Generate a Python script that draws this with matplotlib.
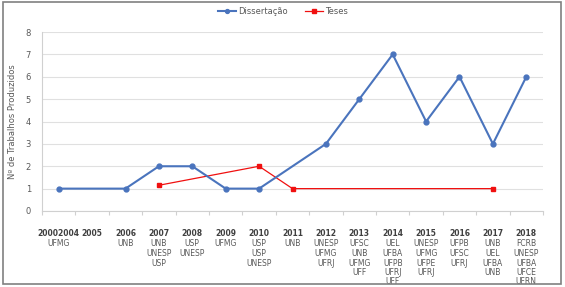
import numpy as np
import matplotlib
matplotlib.use("Agg")
import matplotlib.pyplot as plt
from matplotlib.patches import Rectangle

# Data
categories = ["20002004", "2005", "2006", "2007", "2008", "2009", "2010", "2011",
              "2012", "2013", "2014", "2015", "2016", "2017", "2018"]
institutions = [
    ["UFMG"],
    [],
    ["UNB"],
    ["UNB", "UNESP", "USP"],
    ["USP", "UNESP"],
    ["UFMG"],
    ["USP", "USP", "UNESP"],
    ["UNB"],
    ["UNESP", "UFMG", "UFRJ"],
    ["UFSC", "UNB", "UFMG", "UFF"],
    ["UEL", "UFBA", "UFPB", "UFRJ", "UFF"],
    ["UNESP", "UFMG", "UFPE", "UFRJ"],
    ["UFPB", "UFSC", "UFRJ"],
    ["UNB", "UEL", "UFBA", "UNB"],
    ["FCRB", "UNESP", "UFBA", "UFCE", "UFRN"],
]
nan = np.nan
dissertacao = [1, nan, 1, 2, 2, 1, 1, nan, 3, 5, 7, 4, 6, 3, 6]
teses = [nan, nan, nan, 1.15, nan, nan, 2, 1, nan, nan, nan, nan, nan, 1, nan]

BLUE = "#4a74bd"
RED = "#f01010"
GRAY = "#595959"

fig = plt.figure(figsize=(5.65, 2.87), dpi=100)
ax = fig.add_axes([42 / 565, 1 - 211 / 287, 501 / 565, 179 / 287])

x = np.arange(len(categories))
d = np.array(dissertacao, dtype=float)
t = np.array(teses, dtype=float)
md = ~np.isnan(d)
mt = ~np.isnan(t)

# gaps (missing years) are bridged, as in the original
ax.plot(x[md], d[md], color=BLUE, lw=1.5, marker="o", ms=3.5, label="Dissertação", zorder=3)
ax.plot(x[mt], t[mt], color=RED, lw=0.9, marker="s", ms=3.5, label="Teses", zorder=2)

ax.set_xlim(-0.5, len(categories) - 0.5)
ax.set_ylim(0, 8)
ax.set_yticks(range(0, 9))
ax.tick_params(axis="y", length=0, labelsize=6, labelcolor=GRAY, pad=8)
ax.set_xticks(np.arange(-0.5, len(categories), 1.0))
ax.set_xticklabels([])
ax.tick_params(axis="x", length=3, color="#d0d0d0")
ax.grid(axis="y", color="#e0e0e0", lw=0.8)
ax.set_axisbelow(True)
for side in ["top", "right"]:
    ax.spines[side].set_visible(False)
ax.spines["left"].set_color("#d0d0d0")
ax.spines["bottom"].set_color("#d0d0d0")

ax.set_ylabel("Nº de Trabalhos Produzidos", fontsize=6, color=GRAY, labelpad=6)

# category labels: bold year plus list of institutions
for i, (cat, inst) in enumerate(zip(categories, institutions)):
    ax.annotate(cat, xy=(i, 0), xycoords=("data", "axes fraction"),
                xytext=(0, -22), textcoords="offset pixels",
                ha="center", va="center", fontsize=5.5, fontweight="bold", color="#404040")
    for j, name in enumerate(inst):
        ax.annotate(name, xy=(i, 0), xycoords=("data", "axes fraction"),
                    xytext=(0, -33 - 9.5 * j), textcoords="offset pixels",
                    ha="center", va="center", fontsize=5.5, color=GRAY)

fig.legend(loc="center", bbox_to_anchor=(283 / 565, 1 - 11 / 287), ncol=2,
           frameon=False, fontsize=6, labelcolor=GRAY, handlelength=2.2,
           columnspacing=2.0, handletextpad=0.3, markerscale=0.8)

fig.add_artist(Rectangle((3 / 565, 3 / 287), 558 / 565, 282 / 287,
                         transform=fig.transFigure, fill=False,
                         edgecolor="#808080", lw=1.2))

plt.savefig("out.png", dpi=100)
plt.close()
